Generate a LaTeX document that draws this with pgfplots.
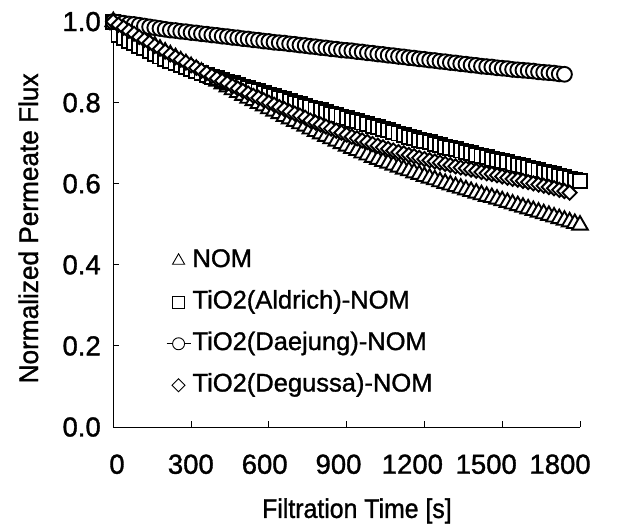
\documentclass[border=0pt]{standalone}
\usepackage{fontspec}
\setmainfont{Liberation Sans}[RawFeature={embolden=1.2}]
\newfontfamily\xlabfont{Liberation Sans}[FakeStretch=0.92, RawFeature={embolden=1.2}]
\newfontfamily\ylabfont{Liberation Sans}[FakeStretch=0.97, RawFeature={embolden=1.2}]
\usepackage{pgfplots}
\usepackage{pgfplotstable}
\pgfplotsset{compat=1.18}

% t [s], NOM, TiO2(Aldrich), TiO2(Daejung), TiO2(Degussa)
\pgfplotstableread{
t nom ald dae deg
0 1.000 1.000 1.000 1.000
20 0.992 0.966 0.998 0.992
40 0.985 0.960 0.996 0.985
60 0.977 0.953 0.994 0.977
80 0.970 0.947 0.993 0.970
100 0.962 0.940 0.991 0.962
120 0.955 0.934 0.989 0.955
140 0.947 0.927 0.987 0.948
160 0.940 0.921 0.985 0.940
180 0.932 0.914 0.983 0.933
200 0.925 0.908 0.981 0.926
220 0.918 0.903 0.979 0.919
240 0.911 0.897 0.978 0.912
260 0.903 0.892 0.976 0.906
280 0.896 0.887 0.975 0.899
300 0.889 0.882 0.973 0.892
320 0.882 0.878 0.972 0.886
340 0.875 0.873 0.970 0.879
360 0.867 0.869 0.969 0.873
380 0.860 0.864 0.967 0.866
400 0.853 0.860 0.966 0.860
420 0.846 0.856 0.964 0.854
440 0.839 0.852 0.963 0.848
460 0.832 0.848 0.961 0.841
480 0.825 0.844 0.960 0.835
500 0.818 0.840 0.958 0.829
520 0.811 0.836 0.957 0.823
540 0.805 0.832 0.955 0.817
560 0.798 0.828 0.954 0.812
580 0.792 0.824 0.952 0.806
600 0.785 0.820 0.951 0.800
620 0.779 0.816 0.949 0.795
640 0.773 0.812 0.948 0.789
660 0.766 0.808 0.947 0.784
680 0.760 0.804 0.945 0.778
700 0.754 0.800 0.944 0.773
720 0.748 0.796 0.942 0.768
740 0.742 0.792 0.941 0.763
760 0.735 0.788 0.939 0.756
780 0.729 0.784 0.938 0.751
800 0.723 0.781 0.936 0.746
820 0.717 0.777 0.935 0.741
840 0.711 0.773 0.933 0.736
860 0.705 0.769 0.932 0.731
880 0.699 0.766 0.930 0.726
900 0.693 0.762 0.929 0.721
920 0.687 0.758 0.928 0.716
940 0.682 0.754 0.926 0.712
960 0.676 0.751 0.925 0.707
980 0.671 0.747 0.923 0.703
1000 0.665 0.743 0.922 0.698
1020 0.660 0.739 0.920 0.694
1040 0.655 0.735 0.919 0.690
1060 0.651 0.732 0.917 0.686
1080 0.646 0.728 0.916 0.682
1100 0.641 0.724 0.914 0.678
1120 0.636 0.720 0.913 0.675
1140 0.632 0.716 0.911 0.671
1160 0.627 0.713 0.910 0.668
1180 0.623 0.709 0.908 0.664
1200 0.618 0.705 0.907 0.661
1220 0.614 0.702 0.905 0.658
1240 0.610 0.698 0.904 0.655
1260 0.605 0.695 0.902 0.652
1280 0.601 0.691 0.901 0.649
1300 0.597 0.688 0.899 0.646
1320 0.593 0.685 0.898 0.643
1340 0.589 0.682 0.896 0.640
1360 0.585 0.678 0.895 0.638
1380 0.581 0.675 0.893 0.635
1400 0.577 0.672 0.892 0.632
1420 0.573 0.669 0.890 0.629
1440 0.569 0.666 0.889 0.626
1460 0.566 0.662 0.888 0.624
1480 0.562 0.659 0.886 0.621
1500 0.558 0.656 0.885 0.618
1520 0.554 0.653 0.884 0.615
1540 0.550 0.650 0.882 0.612
1560 0.546 0.646 0.881 0.610
1580 0.542 0.643 0.880 0.607
1600 0.538 0.640 0.879 0.604
1620 0.534 0.637 0.878 0.601
1640 0.530 0.633 0.876 0.598
1660 0.526 0.630 0.875 0.595
1680 0.522 0.626 0.874 0.592
1700 0.518 0.623 0.873 0.589
1720 0.514 0.620 0.871 0.585
1740 0.510 0.617 0.870 0.582
1760 0.506 0.613 nan 0.578
1780 0.502 0.610 nan nan
1800 0.498 0.607 nan nan
}\fluxdata

\begin{document}
\begin{tikzpicture}
\begin{axis}[
    at={(0,0)}, anchor=south west,
    width=466.7pt, height=405.4pt, scale only axis,
    xmin=0, xmax=1800, ymin=0, ymax=1.0,
    axis x line*=bottom, axis y line*=left,
    axis line style={line width=1pt},
    clip=false,
    xtick={0,300,600,900,1200,1500,1800},
    xticklabels={},
    ytick={0,0.2,0.4,0.6,0.8,1.0},
    tick align=inside,
    major tick length=6pt,
    tick style={black, line width=0.9pt},
    /pgf/number format/assume math mode=true,
    yticklabel style={/pgf/number format/fixed, /pgf/number format/fixed zerofill,
        /pgf/number format/precision=1, xshift=-9pt},
    ticklabel style={font=\fontsize{27.5}{30}\selectfont},
    xlabel={\xlabfont Filtration Time [s]},
    ylabel={\ylabfont Normalized Permeate Flux},
    label style={font=\fontsize{27}{30}\selectfont},
    xlabel style={at={(axis description cs:0.522,-0.207)}, anchor=center},
    ylabel style={at={(axis description cs:-0.182,0.49)}, anchor=center},
    legend style={at={(axis cs:203,0.442)}, anchor=north west, draw=none, fill=none,
        inner sep=0pt, row sep=16pt, font=\fontsize{25.5}{27}\selectfont,
        nodes={inner sep=1.5pt, text height=17.5pt, text depth=5pt}},
    legend cell align=left,
  ]
  \addplot[only marks, mark=triangle*, mark size=9pt,
    mark options={draw=black, fill=white, line width=1.9pt}, forget plot]
    table[x=t, y=nom] {\fluxdata};
  \addplot[only marks, mark=square*, mark size=7pt,
    mark options={draw=black, fill=white, line width=1.9pt}, forget plot]
    table[x=t, y=ald] {\fluxdata};
  \addplot[only marks, mark=*, mark size=7.4pt,
    mark options={draw=black, fill=white, line width=1.9pt}, forget plot]
    table[x=t, y=dae] {\fluxdata};
  \addplot[only marks, mark=square*, mark size=5pt,
    mark options={draw=black, fill=white, line width=1.9pt, rotate=45}, forget plot]
    table[x=t, y=deg] {\fluxdata};

  \addlegendimage{legend image code/.code={
      \path (0pt,0pt) (18pt,0pt);
      \draw[black, mark=triangle*, mark size=7pt, mark options={fill=white, line width=0.9pt}]
        plot coordinates {(9pt,0pt)};}}
  \addlegendentry{NOM}
  \addlegendimage{legend image code/.code={
      \path (0pt,0pt) (18pt,0pt);
      \draw[black, mark=square*, mark size=6pt, mark options={fill=white, line width=0.9pt}]
        plot coordinates {(9pt,0pt)};}}
  \addlegendentry{TiO2(Aldrich)-NOM}
  \addlegendimage{legend image code/.code={
      \draw[black, line width=0.9pt] (-3pt,0pt) -- (21pt,0pt);
      \draw[black, mark=*, mark size=6pt, mark options={fill=white, line width=0.9pt}]
        plot coordinates {(9pt,0pt)};}}
  \addlegendentry{TiO2(Daejung)-NOM}
  \addlegendimage{legend image code/.code={
      \path (0pt,0pt) (18pt,0pt);
      \draw[black, mark=square*, mark size=4.6pt, mark options={fill=white, line width=0.9pt, rotate=45}]
        plot coordinates {(9pt,0pt)};}}
  \addlegendentry{TiO2(Degussa)-NOM}
\end{axis}
% tick numbers of the time axis, placed as in the reference (slightly narrower than the ticks)
\begin{axis}[
    at={(0,0)}, anchor=south west,
    width=466.7pt, height=405.4pt, scale only axis,
    xmin=-15, xmax=1881, ymin=0, ymax=1,
    axis x line*=bottom, hide y axis,
    x axis line style={draw=none},
    xtick={0,300,600,900,1200,1500,1800},
    major tick length=0pt,
    x tick style={draw=none},
    /pgf/number format/assume math mode=true,
    /pgf/number format/1000 sep={},
    xticklabel style={font=\fontsize{27.5}{30}\selectfont, yshift=-24pt},
  ]
  \addplot[draw=none, forget plot] coordinates {(0,0)};
\end{axis}
\path (-113.3pt,-97pt) rectangle (506.7pt,427pt);
\end{tikzpicture}
\end{document}
